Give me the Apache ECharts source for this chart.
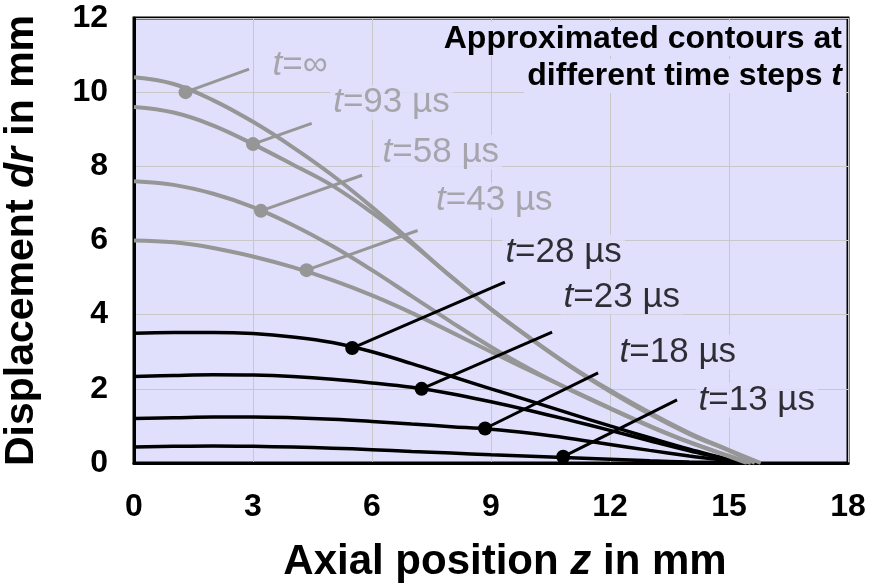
<!DOCTYPE html>
<html>
<head>
<meta charset="utf-8">
<script src="https://cdn.jsdelivr.net/npm/echarts@6/dist/echarts.min.js"></script>
<style>
  html, body { margin: 0; padding: 0; background: #fff; }
  #chart { width: 885px; height: 584px; }
</style>
</head>
<body>
<div id="chart"></div>
<script>
const zPos = [0, 1, 2, 3, 4, 5, 6, 7, 8, 9, 10, 11, 12, 13, 14, 15]

// displacement dr (mm) per time step, read at zPos; each contour closes at dr = 0 at its end z
const dr13 = [0.43, 0.45, 0.46, 0.45, 0.43, 0.40, 0.36, 0.31, 0.27, 0.22, 0.18, 0.14, 0.10, 0.06, 0.03, 0.01]
const dr18 = [1.20, 1.22, 1.24, 1.24, 1.22, 1.18, 1.12, 1.05, 0.98, 0.91, 0.80, 0.66, 0.50, 0.34, 0.19, 0.05]
const dr23 = [2.33, 2.36, 2.38, 2.37, 2.33, 2.26, 2.16, 2.04, 1.87, 1.65, 1.41, 1.15, 0.88, 0.60, 0.33, 0.08]
const dr28 = [3.50, 3.52, 3.52, 3.49, 3.40, 3.25, 3.00, 2.68, 2.34, 2.00, 1.67, 1.33, 1.00, 0.68, 0.37, 0.09]
const dr43 = [6.00, 5.95, 5.80, 5.57, 5.28, 4.93, 4.52, 4.05, 3.53, 3.00, 2.48, 1.98, 1.48, 1.00, 0.56, 0.18]
const dr58 = [7.60, 7.50, 7.26, 6.90, 6.42, 5.85, 5.20, 4.50, 3.80, 3.13, 2.52, 1.97, 1.47, 0.99, 0.56, 0.19]
const dr93 = [9.60, 9.45, 9.10, 8.60, 8.05, 7.48, 6.75, 5.92, 5.02, 4.15, 3.35, 2.60, 1.93, 1.32, 0.78, 0.33]
const drInf = [10.40, 10.22, 9.78, 9.20, 8.52, 7.76, 6.90, 5.96, 5.02, 4.15, 3.36, 2.62, 1.96, 1.36, 0.81, 0.35]
const zEnd = [15.1, 15.15, 15.2, 15.25, 15.45, 15.55, 15.65, 15.8]

// marker dots on each contour and the end of their leader lines
const stepNames = ['=13 µs', '=18 µs', '=23 µs', '=28 µs', '=43 µs', '=58 µs', '=93 µs', '=∞']
const dotZ = [10.82, 8.85, 7.25, 5.5, 4.35, 3.2, 3.0, 1.3]
const dotDr = [0.17, 0.93, 2.0, 3.1, 5.2, 6.8, 8.6, 10.0]
const tipZ = [13.69, 11.7, 10.54, 9.35, 7.15, 5.75, 4.48, 2.9]
const tipDr = [1.7, 2.43, 3.53, 4.88, 6.27, 7.76, 9.16, 10.62]

const xTicks = [0, 18, 3]
const yTicks = [0, 12, 2]

const curves = [dr13, dr18, dr23, dr28, dr43, dr58, dr93, drInf]
const noteLines = ['Approximated contours at', 'different time steps {i|t}']

const FONT = "'Liberation Sans', Arial, sans-serif"
const BG = '#e0e0fc'
const GRAY = '#969696'
// label offsets from the leader tip, in px
const labelOffsets = [[18, 0], [18, -21], [8, -35], [-3, -30], [15, -30], [17, -23], [18, -21], [20, -4]]

const chart = echarts.init(document.getElementById('chart'))

const lineSeries = curves.map((vals, i) => {
  const pts = zPos.map((z, k) => [z, vals[k]])
  pts.push([zEnd[i], 0])
  const gray = i >= 4
  return {
    type: 'line',
    data: pts,
    smooth: 0.4,
    showSymbol: false,
    silent: true,
    z: gray ? 3 : 2,
    lineStyle: { color: gray ? GRAY : '#000', width: gray ? 4 : 3.5 }
  }
})

const leaderSeries = stepNames.map((name, i) => {
  const color = i >= 4 ? GRAY : '#000'
  return {
    type: 'line',
    z: 4,
    silent: true,
    lineStyle: { color, width: 3 },
    itemStyle: { color },
    data: [
      { value: [dotZ[i], dotDr[i]], symbol: 'circle', symbolSize: 14 },
      { value: [tipZ[i], tipDr[i]], symbol: 'none' }
    ]
  }
})

// the text next to each leader tip
const tipLabels = {
  type: 'scatter',
  z: 5,
  silent: true,
  symbolSize: 1,
  itemStyle: { color: 'rgba(0,0,0,0)' },
  data: stepNames.map((name, i) => {
    const color = i >= 4 ? GRAY : '#000'
    return {
      value: [tipZ[i], tipDr[i]],
      label: {
        show: true,
        position: 'right',
        distance: 0,
        offset: labelOffsets[i],
        formatter: '{i|t}' + name,
        color,
        fontSize: 35,
        fontFamily: FONT,
        backgroundColor: BG,
        padding: [0, 3],
        rich: {
          i: { fontStyle: 'italic', fontSize: 35, fontFamily: FONT, color }
        }
      }
    }
  })
}

const noteGraphics = noteLines.map((line, k) => ({
  type: 'text',
  right: 40,
  top: 22 + k * 37,
  z: 10,
  silent: true,
  style: {
    text: line,
    fill: '#000',
    font: 'bold 32px ' + FONT,
    backgroundColor: BG,
    padding: [1, 3],
    rich: {
      i: { fontStyle: 'italic', fontWeight: 'bold', fontSize: 32, fontFamily: FONT, fill: '#000' }
    }
  }
}))

const option = {
  animation: false,
  graphic: noteGraphics,
  grid: {
    left: 134,
    top: 18,
    width: 714,
    height: 445,
    outerBoundsMode: 'none',
    containLabel: false,
    show: true,
    backgroundColor: BG,
    borderColor: '#000',
    borderWidth: 3
  },
  xAxis: {
    type: 'value',
    min: xTicks[0],
    max: xTicks[1],
    interval: xTicks[2],
    name: 'Axial position {i|z} in mm',
    nameLocation: 'middle',
    nameGap: 78,
    nameTextStyle: {
      fontFamily: FONT,
      fontSize: 42,
      fontWeight: 'bold',
      color: '#000',
      padding: [0, 0, 0, 28],
      rich: {
        i: { fontStyle: 'italic', fontWeight: 'bold', fontSize: 42, fontFamily: FONT, color: '#000' }
      }
    },
    axisLine: { lineStyle: { color: '#000', width: 3 } },
    axisTick: { show: false },
    axisLabel: { fontFamily: FONT, fontSize: 32, fontWeight: 'bold', color: '#000', margin: 28 },
    splitLine: { lineStyle: { color: '#c8c8c8', width: 1 } }
  },
  yAxis: {
    type: 'value',
    min: yTicks[0],
    max: yTicks[1],
    interval: yTicks[2],
    name: 'Displacement {i|dr} in mm',
    nameLocation: 'middle',
    nameRotate: 90,
    nameGap: 92,
    nameTextStyle: {
      fontFamily: FONT,
      fontSize: 41,
      fontWeight: 'bold',
      color: '#000',
      rich: {
        i: { fontStyle: 'italic', fontWeight: 'bold', fontSize: 41, fontFamily: FONT, color: '#000' }
      }
    },
    axisLine: { show: true, lineStyle: { color: '#000', width: 3 } },
    axisTick: { show: false },
    axisLabel: { fontFamily: FONT, fontSize: 32, fontWeight: 'bold', color: '#000', margin: 26 },
    splitLine: { lineStyle: { color: '#c8c8c8', width: 1 } }
  },
  series: [...lineSeries, ...leaderSeries, tipLabels]
}

chart.setOption(option)
</script>
</body>
</html>
